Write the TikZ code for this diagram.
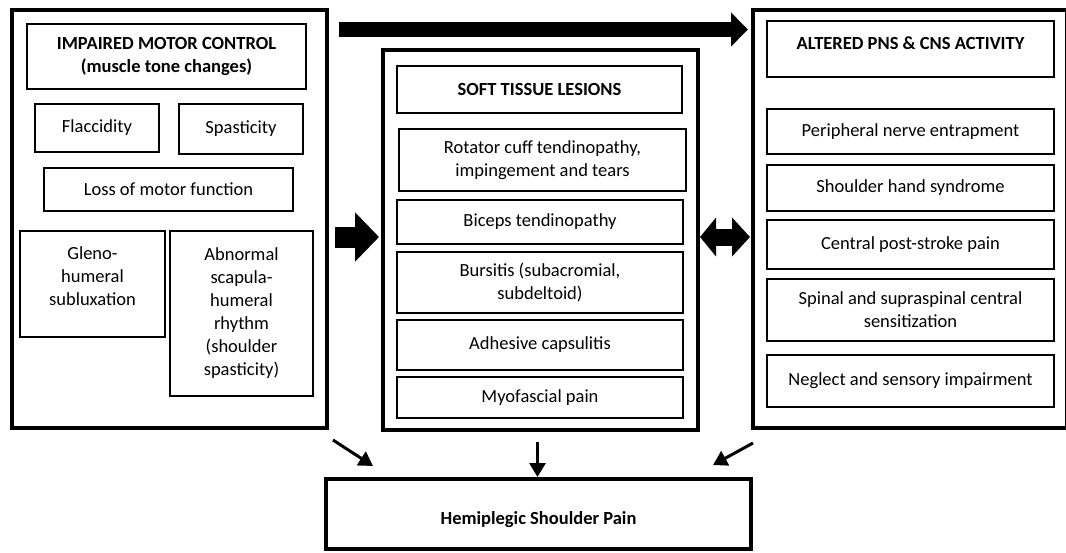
\documentclass[tikz,border=0pt]{standalone}
\usepackage{fontspec}
\setmainfont{Carlito}
\usetikzlibrary{arrows.meta, calc}
\newcommand{\fs}{\fontsize{18.5}{23}\selectfont}

\begin{document}
\begin{tikzpicture}[x=1pt, y=-1pt,
        panel/.style={draw, line width=4pt, inner sep=0pt},
        item/.style={draw, line width=1.6pt, align=center, inner sep=0pt, font=\fs},
        head/.style={item, font=\fs\bfseries},
        sink/.style={line width=3pt, -{Triangle[length=14pt, width=16pt]}}]
        \useasboundingbox (0,0) rectangle (1066,552);

        % three panels and the result
        \node[panel, minimum width=315, minimum height=418] (motor) at (169.5,219) {};
        \node[panel, minimum width=315, minimum height=380] (soft) at (540.5,240) {};
        \node[panel, minimum width=314, minimum height=418] (alter) at (910,219) {};
        \node[panel, minimum width=425, minimum height=70, text height=25pt, font=\fs\bfseries] (hsp) at (538.5,514) {Hemiplegic Shoulder Pain};

        % impaired motor control
        \node[head, minimum width=279, minimum height=65] (imp) at (166.5,56.5) {IMPAIRED MOTOR CONTROL\\(muscle tone changes)};
        \node[item, minimum width=124, minimum height=48] (flac) at (97,128) {Flaccidity};
        \node[item, minimum width=124, minimum height=50] (spas) at (241,129) {Spasticity};
        \node[item, minimum width=249, minimum height=43] (loss) at (168.5,189.5) {Loss of motor function};
        \node[item, minimum width=145, minimum height=106, text depth=16pt] (gleno) at (92.5,284) {Gleno-\\humeral\\subluxation};
        \node[item, minimum width=143, minimum height=165] (abn) at (241.5,313.5) {Abnormal\\scapula-\\humeral\\rhythm\\(shoulder\\spasticity)};

        % soft tissue lesions
        \node[head, minimum width=285, minimum height=47] (stl) at (539.5,89.5) {SOFT TISSUE LESIONS};
        \node[item, minimum width=287, minimum height=62] (rot) at (542.5,160) {Rotator cuff tendinopathy,\\impingement and tears};
        \node[item, minimum width=286, minimum height=44] (bic) at (540,222) {Biceps tendinopathy};
        \node[item, minimum width=286, minimum height=61] (bur) at (540,282.5) {Bursitis (subacromial,\\subdeltoid)};
        \node[item, minimum width=286, minimum height=50] (adh) at (540,345) {Adhesive capsulitis};
        \node[item, minimum width=286, minimum height=41] (myo) at (540,397.5) {Myofascial pain};

        % altered PNS and CNS activity
        \node[head, minimum width=287, minimum height=56, text height=14pt, text depth=14pt] (alt) at (910.5,49) {ALTERED PNS \& CNS ACTIVITY};
        \node[item, minimum width=287, minimum height=45] (per) at (910.5,131.5) {Peripheral nerve entrapment};
        \node[item, minimum width=287, minimum height=46] (shs) at (910.5,188) {Shoulder hand syndrome};
        \node[item, minimum width=287, minimum height=49] (cps) at (910.5,244.5) {Central post-stroke pain};
        \node[item, minimum width=287, minimum height=62] (spi) at (910.5,310) {Spinal and supraspinal central\\sensitization};
        \node[item, minimum width=287, minimum height=52] (neg) at (910.5,381) {Neglect and sensory impairment};

        % fat arrows between panels
        \coordinate (toprow) at (0,29.5);
        \coordinate (midrow) at (0,237);
        \draw[line width=15pt, -{Triangle[length=17pt, width=33pt]}, shorten <=10pt, shorten >=3pt] (motor.east |- toprow) -- (alter.west |- toprow);
        \draw[line width=21pt, -{Triangle[length=24pt, width=48pt]}, shorten <=6pt, shorten >=2pt] (motor.east |- midrow) -- (soft.west |- midrow);
        \draw[line width=17pt, {Triangle[length=16pt, width=38pt]}-{Triangle[length=18pt, width=38pt]}, shorten >=1pt] (soft.east |- midrow) -- (alter.west |- midrow);

        % into the result
        \draw[sink] ($(motor.south east)+(4,10)$) -- ($(hsp.north west)+(49,-11)$);
        \draw[sink] ($(soft.south)+(-3,10)$) -- (hsp.north -| {$(soft.south)+(-3,10)$});
        \draw[sink] ($(alter.south west)+(2,13)$) -- ($(hsp.north east)+(-40,-12)$);
    \end{tikzpicture}
\end{document}
